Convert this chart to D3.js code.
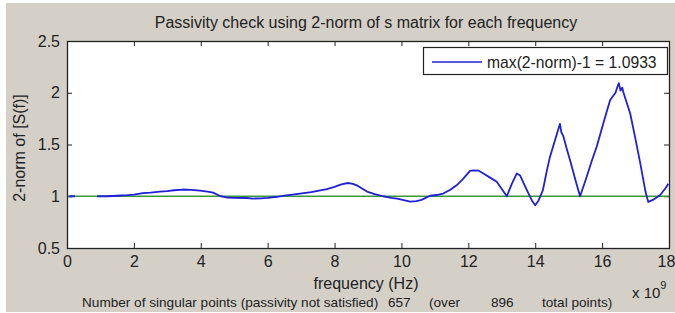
<!DOCTYPE html>
<html><head><meta charset="utf-8">
<script src="https://cdn.jsdelivr.net/npm/d3@7"></script>
<style>body{margin:0;background:#fff;} svg{display:block;font-family:"Liberation Sans",Arial,sans-serif;}</style>
</head><body><div id="chart"></div>
<script>
const title = "Passivity check using 2-norm of s matrix for each frequency";
const xTicks = [0,2,4,6,8,10,12,14,16,18];
const yTicks = [0.5,1,1.5,2,2.5];
const legendLabel = "max(2-norm)-1 = 1.0933";
// frequency in GHz (axis in units of 1e9 Hz)
const freq = [0.07,0.15,0.24,0.5,
0.9,1.2,1.5,1.8,2.0,2.27,2.5,2.78,3.0,3.2,3.47,3.7,3.98,4.2,4.37,4.5,4.6,4.78,5.0,5.38,5.56,5.8,6.0,6.28,6.5,6.97,7.3,7.77,8.0,8.2,8.4,8.55,8.7,8.97,9.2,9.45,9.7,9.87,10.1,10.26,10.45,10.6,10.86,11.05,11.25,11.45,11.65,11.85,12.05,12.15,12.3,12.45,12.65,12.85,13.0,13.15,13.3,13.45,13.55,13.75,13.9,14.0,14.1,14.23,14.35,14.44,14.6,14.74,14.78,14.84,14.95,15.04,15.2,15.34,15.5,15.7,15.84,16.05,16.24,16.4,16.46,16.5,16.55,16.6,16.64,16.84,17.0,17.14,17.3,17.38,17.55,17.73,17.9,17.98];
const norm2 = [1.0,1.0,1.0,null,
1.0,1.0,1.005,1.01,1.015,1.03,1.035,1.045,1.05,1.058,1.065,1.062,1.055,1.045,1.035,1.015,1.0,0.988,0.985,0.983,0.978,0.98,0.985,0.995,1.005,1.025,1.04,1.068,1.09,1.115,1.128,1.12,1.1,1.045,1.02,1.0,0.985,0.978,0.96,0.948,0.952,0.965,1.005,1.012,1.026,1.06,1.106,1.17,1.245,1.25,1.248,1.22,1.18,1.14,1.07,1.0,1.12,1.22,1.2,1.06,0.96,0.913,0.96,1.06,1.25,1.38,1.55,1.70,1.62,1.58,1.45,1.35,1.16,1.0,1.15,1.35,1.48,1.72,1.93,2.0,2.06,2.093,2.02,2.05,2.0,1.80,1.55,1.32,1.04,0.945,0.97,1.01,1.08,1.12];
const limitF = [0,18];
const limitV = [1,1];

const W=675,H=313;
const svg=d3.select("#chart").append("svg").attr("width",W).attr("height",H);
svg.append("rect").attr("x",6).attr("y",3).attr("width",W-6).attr("height",H-4).attr("fill","#d4d0c8");
const L=67,R=669,T=41,B=248;
const x=d3.scaleLinear().domain([0,18]).range([L,R]);
const y=d3.scaleLinear().domain([0.5,2.5]).range([B,T]);
svg.append("rect").attr("x",L).attr("y",T).attr("width",R-L).attr("height",B-T).attr("fill","#fff");

const tickStyle=g=>{g.select(".domain").remove();g.selectAll("line").attr("stroke","#222");g.selectAll("text").attr("fill","#222").style("font-size","16px").style("font-family","Liberation Sans, Arial, sans-serif");};
const xg=svg.append("g").attr("transform",`translate(0,${B})`).call(d3.axisBottom(x).tickValues(xTicks).tickSize(-5).tickPadding(8).tickFormat(d3.format("d"))).call(tickStyle);
xg.selectAll(".tick text").filter(d=>d===18).attr("dx",-3);
svg.append("g").attr("transform",`translate(0,${T})`).call(d3.axisTop(x).tickValues(xTicks).tickSize(-5).tickFormat("")).call(tickStyle);
svg.append("g").attr("transform",`translate(${L},0)`).call(d3.axisLeft(y).tickValues(yTicks).tickSize(-5).tickPadding(7).tickFormat(d=>d===1||d===2?d3.format("d")(d):d3.format(".1f")(d))).call(tickStyle);
svg.append("g").attr("transform",`translate(${R},0)`).call(d3.axisRight(y).tickValues(yTicks).tickSize(-5).tickFormat("")).call(tickStyle);

// limit line
const limData=limitF.map((f,i)=>[f,limitV[i]]);
svg.append("path").datum(limData).attr("fill","none").attr("stroke","#3a9a3a").attr("stroke-width",1.3)
  .attr("d",d3.line().x(d=>x(d[0])).y(d=>y(d[1])));
const data=freq.map((f,i)=>[f,norm2[i]]);
svg.append("path").datum(data).attr("fill","none").attr("stroke","#2020d8").attr("stroke-width",1.8).attr("stroke-linejoin","round")
  .attr("d",d3.line().defined(d=>d[1]!==null).x(d=>x(d[0])).y(d=>y(d[1])));

svg.append("rect").attr("x",L+0.5).attr("y",T+0.5).attr("width",R-L).attr("height",B-T).attr("fill","none").attr("stroke","#222").attr("stroke-width",1.3);

// legend
svg.append("rect").attr("x",423.5).attr("y",47.5).attr("width",244).attr("height",27).attr("fill","#fff").attr("stroke","#222").attr("stroke-width",1.2);
svg.append("line").attr("x1",432).attr("x2",482).attr("y1",62).attr("y2",62).attr("stroke","#2020d8").attr("stroke-width",1.4);
svg.append("text").attr("x",487).attr("y",67.5).text(legendLabel).style("font-size","15.7px").attr("fill","#222");

svg.append("text").attr("x",366).attr("y",28).attr("text-anchor","middle").text(title).style("font-size","16px").attr("fill","#222");
svg.append("text").attr("transform","translate(25,148) rotate(-90)").attr("text-anchor","middle").text("2-norm of [S(f)]").style("font-size","16px").attr("fill","#222");
svg.append("text").attr("x",366).attr("y",289).attr("text-anchor","middle").text("frequency (Hz)").style("font-size","16px").attr("fill","#222");
const exp=svg.append("text").attr("x",632).attr("y",298).style("font-size","15px").attr("fill","#222");
exp.append("tspan").text("x 10");
exp.append("tspan").attr("dy",-9).style("font-size","11px").text("9");
const bt=[["Number of singular points (passivity not satisfied)",82],["657",388],["(over",429],["896",491],["total points)",542]];
svg.selectAll("text.bt").data(bt).enter().append("text").attr("class","bt").attr("x",d=>d[1]).attr("y",307).text(d=>d[0]).style("font-size","13.6px").attr("fill","#222");
</script></body></html>
